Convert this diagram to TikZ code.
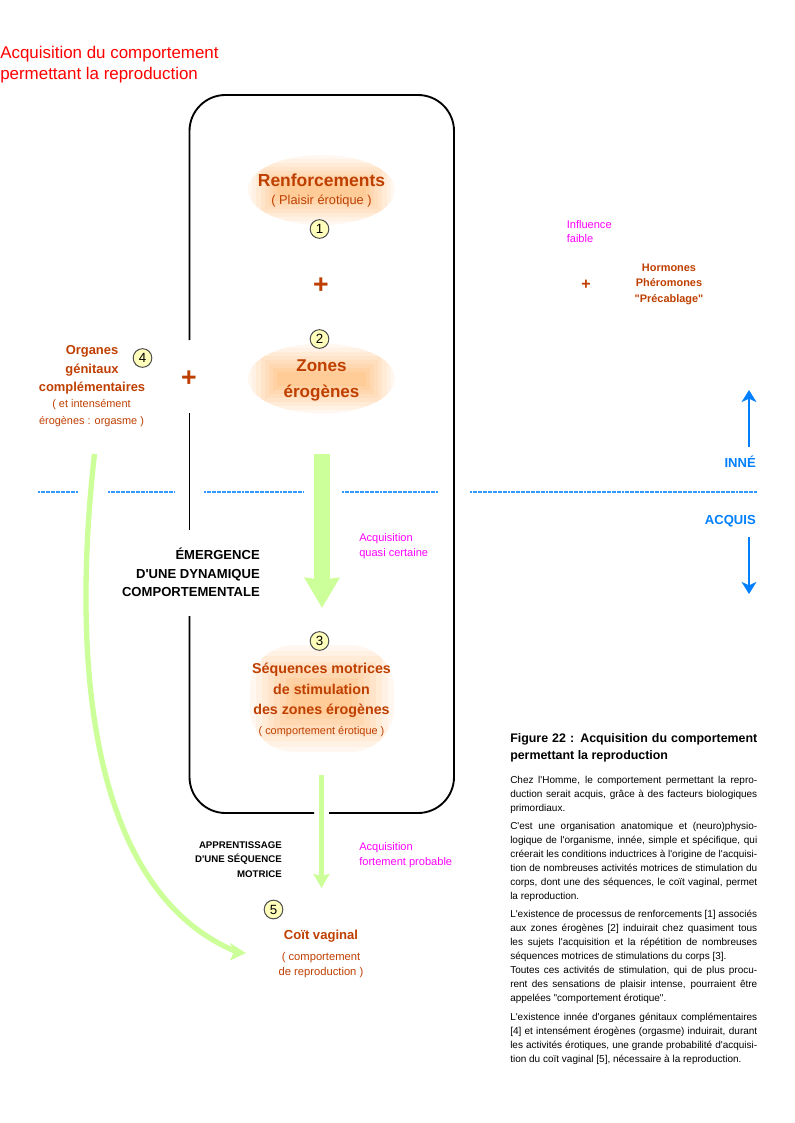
\documentclass[tikz,border=0pt]{standalone}
\usepackage{fontspec}
\setmainfont{Liberation Sans}
\newfontfamily\plainlib{Liberation Sans}
\AtBeginDocument{\plainlib}
\usetikzlibrary{arrows.meta}
\definecolor{rust}{HTML}{BF3F00}
\definecolor{lime}{HTML}{CCFF99}
\definecolor{skyb}{HTML}{3399FF}
\definecolor{blueb}{HTML}{0080FF}
\definecolor{magen}{HTML}{FF00FF}
\definecolor{numfill}{HTML}{FFFFBB}
\newcommand{\blobfill}[6]{%
    \foreach \k/\c in {0/6,1/11,2/16,3/21,4/26,5/31,6/36,7/41}{
      \fill[orange!\c!white] ({#1-#3+\k*#5},{#2-#4+\k*#6}) rectangle ({#1+#3-\k*#5},{#2+#4-\k*#6});
    }}
\newcommand{\blob}[6]{%
  \begin{scope}
    \clip (#1,#2) ellipse [x radius=#3, y radius=#4];
    \blobfill{#1}{#2}{#3}{#4}{#5}{#6}
  \end{scope}}
\newlength{\colw}\setlength{\colw}{185.25pt}
\newcommand{\jl}[1]{\hbox to \colw{\spaceskip=0.25em plus 1em minus 0.1em\relax #1}}
\tikzset{
  x=0.75pt,y=-0.75pt,
  boxline/.style={line width=1.4pt,black},
  ttl/.style={text=rust,font=\bfseries,align=center,inner sep=0},
  sub/.style={text=rust,align=center,inner sep=0},
  mag/.style={text=magen,align=left,inner sep=0},
  blk/.style={text=black,font=\bfseries,align=right,inner sep=0},
  num/.style={circle,draw=black!70,fill=numfill,line width=0.75pt,minimum size=14pt,inner sep=0,font=\fontsize{10pt}{10pt}\selectfont},
  dash line/.style={skyb,line width=1.5pt,dash pattern=on 1.5pt off 0.4pt},
  blue arrow/.style={blueb,line width=1.7pt,-{Stealth[length=9pt,width=11pt,inset=2.5pt]}},
  plus/.style={text=rust,font=\bfseries,inner sep=0},
  parablock/.style={anchor=north west,inner sep=0,align=left,font=\fontsize{7.5pt}{10.5pt}\selectfont},
}
\begin{document}
\begin{tikzpicture}
\useasboundingbox (0,0) rectangle (794,1123);
\fill[white] (0,0) rectangle (794,1123);
% frame
\coordinate (LA) at (189.5,340);
\coordinate (LB) at (189.5,413);
\coordinate (LC) at (189.5,530);
\coordinate (LD) at (189.5,616);
\coordinate (BA) at (314,813);
\coordinate (BB) at (329,813);
\draw[boxline] (LA) -- (189.5,131) arc[start angle=180,end angle=90,radius=27pt] -- (418,95) arc[start angle=90,end angle=0,radius=27pt] -- (454,777) arc[start angle=0,end angle=-90,radius=27pt] -- (BB);
\draw[boxline] (LB) -- (LC);
\draw[boxline] (LD) -- (189.5,777) arc[start angle=180,end angle=270,radius=27pt] -- (BA);
% blobs
\blob{321.5}{190}{73.5}{35}{4.2}{4}
\blob{321.5}{378.5}{73.5}{35}{4.2}{4}
\begin{scope}
  \clip[rounded corners=33pt] (250,645) rectangle (394,752);
  \blobfill{322}{698.5}{72}{53.5}{6}{5.5}
\end{scope}
% separators
\coordinate (S1a) at (38,492); \coordinate (S1b) at (78,492);
\coordinate (S2a) at (108,492); \coordinate (S2b) at (174,492);
\coordinate (S3a) at (204,492); \coordinate (S3b) at (303,492);
\coordinate (S4a) at (342,492); \coordinate (S4b) at (438,492);
\coordinate (S5a) at (470,492); \coordinate (S5b) at (757,492);
\foreach \n in {1,...,5}{\draw[dash line] (S\n a) -- (S\n b);}
% green arrows
\coordinate (G1a) at (322,454); \coordinate (G1b) at (322,608);
\coordinate (G2a) at (321.5,775); \coordinate (G2b) at (321.5,888);
\coordinate (G3a) at (94.5,454); \coordinate (G3b) at (246,953);
\draw[lime,line width=12pt,-{Stealth[length=22.5pt,width=25.5pt,inset=1.5pt]}] (G1a) -- (G1b);
\draw[lime,line width=3.75pt,-{Stealth[length=10.5pt,width=12pt,inset=1.5pt]}] (G2a) -- (G2b);
\draw[lime,line width=4pt] (G3a) .. controls (68,690) and (100,895) .. (236,951.5);
\fill[lime] (G3b) -- (230,960.5) -- (234,951.5) -- (230,943) -- cycle;
% blue arrows
\coordinate (Ua) at (749,447); \coordinate (Ub) at (749,390);
\coordinate (Da) at (749,537); \coordinate (Db) at (749,594);
\draw[blue arrow] (Ua) -- (Ub);
\draw[blue arrow] (Da) -- (Db);
% title
\node[anchor=west,text=red,align=left,inner sep=0,font=\fontsize{12.7pt}{15.75pt}\selectfont] (title) at (0,65) {Acquisition du comportement\\permettant la reproduction};
% blob texts
\node[ttl,font=\bfseries\fontsize{13.1pt}{13.5pt}\selectfont] (renf) at (321.5,180) {Renforcements};
\node[sub,font=\fontsize{9.6pt}{10pt}\selectfont] (plaisir) at (321.5,201.5) {( Plaisir érotique )};
\node[ttl,font=\bfseries\fontsize{12.8pt}{19.5pt}\selectfont] (zones) at (321.5,380.5) {Zones\\érogènes};
\node[ttl,font=\bfseries\fontsize{10.7pt}{15.4pt}\selectfont] (seq) at (321.5,690.5) {Séquences motrices\\de stimulation\\des zones érogènes};
\node[sub,font=\fontsize{8.2pt}{10pt}\selectfont] (ceo) at (321.5,732) {( comportement érotique )};
% numbers
\node[num] (n1) at (319.5,229) {1};
\node[num] (n2) at (319.5,339) {2};
\node[num] (n3) at (319.5,641) {3};
\node[num] (n4) at (142.5,358) {4};
\node[num] (n5) at (273.5,909.5) {5};
% plus
\node[plus,font=\bfseries\fontsize{20pt}{20pt}\selectfont] (p1) at (321,285.5) {+};
\node[plus,font=\bfseries\fontsize{20pt}{20pt}\selectfont] (p2) at (189,379) {+};
\node[plus,font=\bfseries\fontsize{12pt}{12pt}\selectfont] (p3) at (586,284.5) {+};
% left
\node[ttl,font=\bfseries\fontsize{9.7pt}{13.9pt}\selectfont] (org) at (92,370) {Organes\\génitaux\\complémentaires};
\node[sub,font=\fontsize{8.2pt}{12.4pt}\selectfont] (intens) at (91.5,413) {( et intensément\\érogènes : orgasme )};
% black
\node[blk,anchor=east,font=\bfseries\fontsize{9.8pt}{13.9pt}\selectfont] (emerg) at (260,572.5) {ÉMERGENCE\\D'UNE DYNAMIQUE\\COMPORTEMENTALE};
\node[blk,anchor=east,font=\bfseries\fontsize{7.25pt}{11pt}\selectfont] (appr) at (282,859.5) {APPRENTISSAGE\\D'UNE SÉQUENCE\\MOTRICE};
% magenta
\node[mag,anchor=west,font=\fontsize{8.3pt}{11pt}\selectfont] (m1) at (359,546) {Acquisition\\quasi certaine};
\node[mag,anchor=west,font=\fontsize{8.3pt}{11pt}\selectfont] (m2) at (359,855) {Acquisition\\fortement probable};
\node[mag,anchor=west,font=\fontsize{8.3pt}{11pt}\selectfont] (m3) at (566.5,231.5) {Influence\\faible};
% hormones
\node[ttl,font=\bfseries\fontsize{8.2pt}{11.7pt}\selectfont] (horm) at (669,284) {Hormones\\Phéromones\\"Précablage"};
% inne acquis
\node[anchor=east,text=blueb,font=\bfseries\fontsize{9.8pt}{10pt}\selectfont,inner sep=0] (inne) at (756,462) {INNÉ};
\node[anchor=east,text=blueb,font=\bfseries\fontsize{9.8pt}{10pt}\selectfont,inner sep=0] (acq) at (756,521) {ACQUIS};
% coit
\node[ttl,font=\bfseries\fontsize{9.8pt}{10pt}\selectfont] (coit) at (321,936.5) {Coït vaginal};
\node[sub,font=\fontsize{8.4pt}{11.2pt}\selectfont] (crep) at (321,965) {( comportement\\de reproduction )};
% caption
\node[anchor=north west,inner sep=0,align=left,font=\bfseries\fontsize{9.3pt}{12.75pt}\selectfont] (figt) at (510,733.5) {\jl{Figure 22 : Acquisition du comportement}\\permettant la reproduction};
\node[parablock] (q1) at (510,776) {\jl{Chez l'Homme, le comportement permettant la repro-}\\\jl{duction serait acquis, grâce à des facteurs biologiques}\\primordiaux.};
\node[parablock] (q2) at (510,822) {\jl{C'est une organisation anatomique et (neuro)physio-}\\\jl{logique de l'organisme, innée, simple et spécifique, qui}\\\jl{créerait les conditions inductrices à l'origine de l'acquisi-}\\\jl{tion de nombreuses activités motrices de stimulation du}\\\jl{corps, dont une des séquences, le coït vaginal, permet}\\la reproduction.};
\node[parablock] (q3) at (510,910) {\jl{L'existence de processus de renforcements [1] associés}\\\jl{aux zones érogènes [2] induirait chez quasiment tous}\\\jl{les sujets l'acquisition et la répétition de nombreuses}\\séquences motrices de stimulations du corps [3].\\\jl{Toutes ces activités de stimulation, qui de plus procu-}\\\jl{rent des sensations de plaisir intense, pourraient être}\\appelées "comportement érotique".};
\node[parablock] (q4) at (510,1013) {\jl{L'existence innée d'organes génitaux complémentaires}\\\jl{[4] et intensément érogènes (orgasme) induirait, durant}\\\jl{les activités érotiques, une grande probabilité d'acquisi-}\\tion du coït vaginal [5], nécessaire à la reproduction.};
\end{tikzpicture}
\end{document}
